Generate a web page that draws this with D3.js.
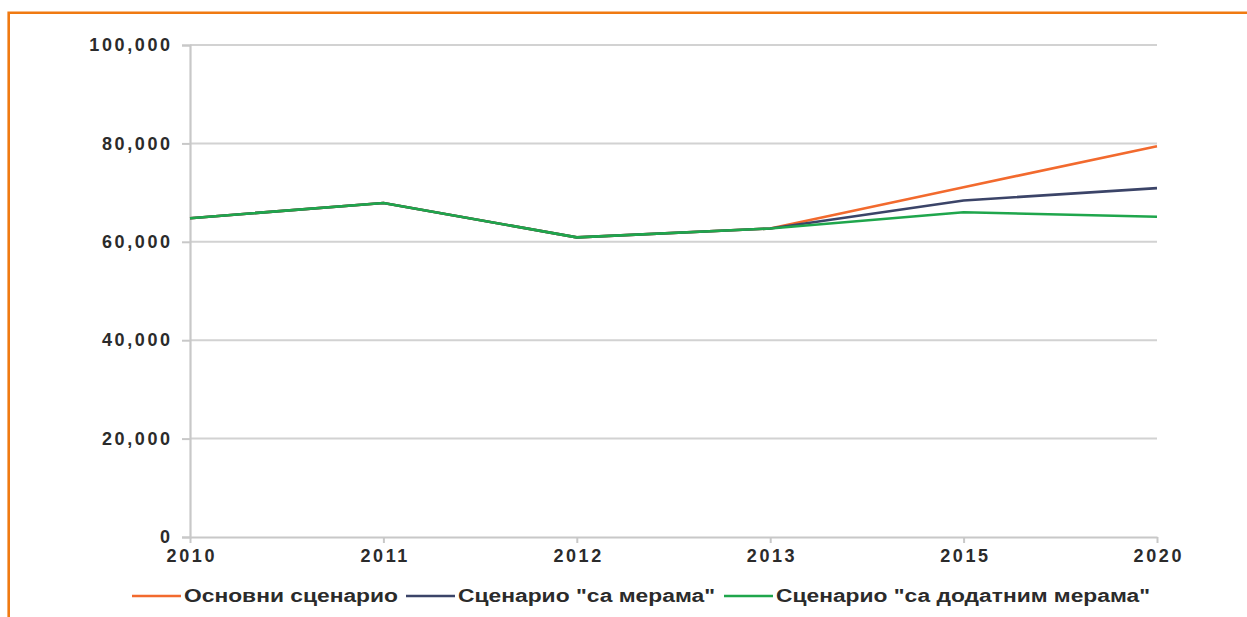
<!DOCTYPE html>
<html>
<head>
<meta charset="utf-8">
<script src="https://cdn.jsdelivr.net/npm/d3@7"></script>
<style>
  body { margin: 0; background: #fff; }
  text { font-family: "Liberation Sans", Arial, sans-serif; fill: #2b2b2b; }
</style>
</head>
<body>
<div id="chart"></div>
<script>
// data
var years = ["2010", "2011", "2012", "2013", "2015", "2020"];
var baseScenario = [64800, 67900, 60900, 62700, 71100, 79400];
var measuresScenario = [64800, 67900, 60900, 62700, 68400, 70900];
var additionalScenario = [64800, 67900, 60900, 62700, 66000, 65100];
var yTicks = [0, 20000, 40000, 60000, 80000, 100000];
var seriesNames = ["Основни сценарио", "Сценарио \"са мерама\"", "Сценарио \"са додатним мерама\""];
var seriesColors = ["#f26a2e", "#3b4468", "#1fa64c"];

var series = [baseScenario, measuresScenario, additionalScenario].map(function(vals, i) {
    return { name: seriesNames[i], color: seriesColors[i], values: vals };
});

var W = 1247, H = 617;
var margin = {top: 45, right: 90, bottom: 80, left: 190};

var svg = d3.select("#chart")
    .append("svg")
    .attr("width", W)
    .attr("height", H);

// orange frame (top + left)
svg.append("path")
    .attr("d", "M8.7," + H + "V12.8H" + W)
    .attr("fill", "none")
    .attr("stroke", "#f07a12")
    .attr("stroke-width", 2.6);

var x = d3.scalePoint()
    .domain(years)
    .range([margin.left, W - margin.right]);

var y = d3.scaleLinear()
    .domain([0, 100000])
    .range([H - margin.bottom, margin.top]);

var fmt = d3.format(",");

// gridlines
svg.append("g")
    .selectAll("line")
    .data(yTicks.slice(1))
    .join("line")
    .attr("x1", margin.left)
    .attr("x2", W - margin.right)
    .attr("y1", d => y(d))
    .attr("y2", d => y(d))
    .attr("stroke", "#d2d2d2")
    .attr("stroke-width", 2);

// y axis
var yAxis = svg.append("g")
    .attr("transform", "translate(" + margin.left + ",0)")
    .call(d3.axisLeft(y).tickValues(yTicks).tickFormat(fmt).tickSize(8).tickPadding(12));
yAxis.select(".domain").attr("stroke", "#c8c8c8").attr("stroke-width", 2.2);
yAxis.selectAll(".tick line").attr("stroke", "#c8c8c8").attr("stroke-width", 2);
yAxis.selectAll("text")
    .attr("font-size", 18)
    .attr("font-weight", "bold")
    .attr("letter-spacing", "2.6px")
    .attr("dx", "2.6px")
    .attr("fill", "#2b2b2b");

// x axis
var xAxis = svg.append("g")
    .attr("transform", "translate(0," + y(0) + ")")
    .call(d3.axisBottom(x).tickSize(6).tickPadding(6).tickSizeOuter(0));
xAxis.select(".domain").attr("stroke", "#c8c8c8").attr("stroke-width", 2.2);
xAxis.selectAll(".tick line").attr("stroke", "#c8c8c8").attr("stroke-width", 2);
xAxis.selectAll("text")
    .attr("font-size", 18)
    .attr("font-weight", "bold")
    .attr("letter-spacing", "2.6px")
    .attr("dx", "1.3px")
    .attr("fill", "#2b2b2b");

// lines
var line = d3.line()
    .x((d, i) => x(years[i]))
    .y(d => y(d));

svg.append("g")
    .selectAll("path")
    .data(series)
    .join("path")
    .attr("d", d => line(d.values))
    .attr("fill", "none")
    .attr("stroke", d => d.color)
    .attr("stroke-width", 2.6)
    .attr("stroke-linejoin", "round");

// legend
var legendX = [132, 406, 724];
var legendTextW = [214, 257, 374];
var legend = svg.append("g")
    .selectAll("g")
    .data(series)
    .join("g")
    .attr("transform", (d, i) => "translate(" + legendX[i] + ",596)");
legend.append("line")
    .attr("x1", 0).attr("x2", 49)
    .attr("stroke", d => d.color)
    .attr("stroke-width", 2.6);
legend.append("text")
    .attr("x", 52)
    .attr("dy", "0.35em")
    .attr("font-size", 18)
    .attr("font-weight", "bold")
    .attr("textLength", (d, i) => legendTextW[i])
    .attr("lengthAdjust", "spacingAndGlyphs")
    .text(d => d.name);
</script>
</body>
</html>
